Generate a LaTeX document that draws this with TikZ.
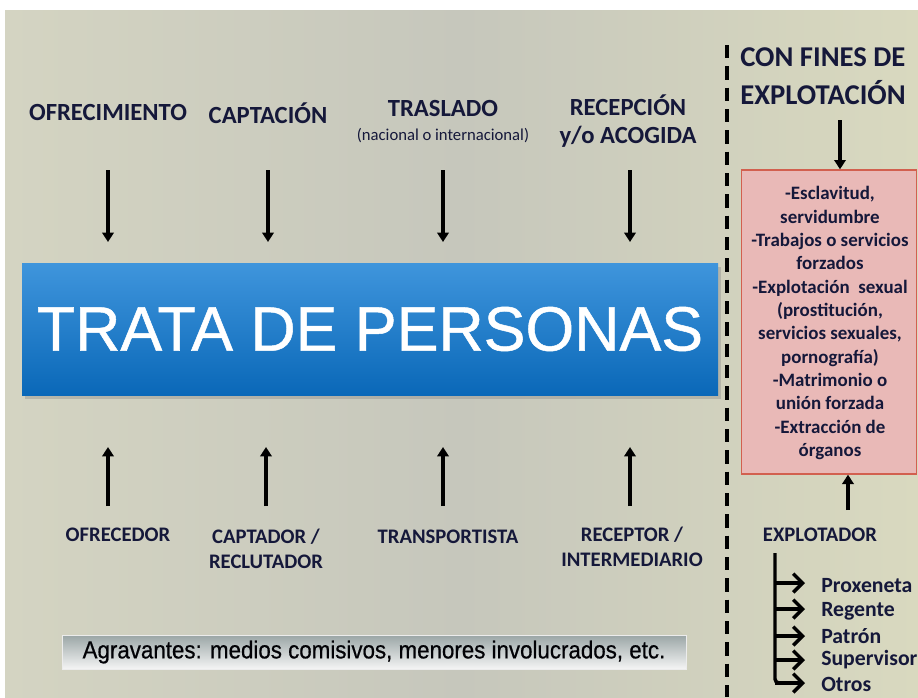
\documentclass[tikz,border=0pt]{standalone}
\usepackage{fontspec}
\setmainfont{Carlito}
\newfontfamily\arialf{Liberation Sans}
\usetikzlibrary{arrows.meta,shadows}
\definecolor{bgl}{HTML}{D4D4C2}
\definecolor{bgm}{HTML}{C6C7BC}
\definecolor{bgr}{HTML}{D9D9BF}
\definecolor{navy}{HTML}{15183A}
\definecolor{pinkf}{HTML}{E9B9B7}
\definecolor{pinkd}{HTML}{D2604F}
\definecolor{bluet}{HTML}{3F95DC}
\definecolor{blueb}{HTML}{0A68B8}
\tikzset{
  lab/.style={font=\bfseries\fontsize{15.5}{19}\selectfont, text=navy, align=center, inner sep=0pt},
  toplab/.style={lab, font=\bfseries\fontsize{18.5}{22}\selectfont},
  itemlab/.style={lab, anchor=west, font=\bfseries\fontsize{16.3}{18}\selectfont},
  arr/.style={line width=3pt, -{Triangle[length=7pt,width=8.5pt]}},
  barb/.style={line width=2.6pt, -{Straight Barb[length=7pt,width=14pt,line width=2.6pt]}},
}
\begin{document}
\begin{tikzpicture}[x=0.75pt,y=-0.75pt]
\useasboundingbox (0,0) rectangle (918,697);
\fill[white] (0,0) rectangle (918,697);
\shade[left color=bgl, right color=bgr, middle color=bgm] (5,10) rectangle (918,697);
% top labels
\node[toplab] (ofr) at (108,112) {OFRECIMIENTO};
\node[toplab] (cap) at (268,113) {CAPTACIÓN};
\node[toplab] (tra) at (443,108) {TRASLADO};
\node[lab, font=\fontsize{12.5}{14}\selectfont] (nac) at (443,136) {(nacional o internacional)};
\node[toplab] (rec) at (628,105) {RECEPCIÓN};
\node[toplab] (rec2) at (628,137) {y/o ACOGIDA};
% blue box
\node[draw=none, top color=bluet, bottom color=blueb, minimum width=696*0.75pt, minimum height=132*0.75pt,
      drop shadow={shadow xshift=2pt, shadow yshift=-3pt, opacity=0.35}, inner sep=0pt,
      font=\arialf\fontsize{47}{50}\selectfont, text=white] (trata) at (370,329) {\addfontfeature{FakeBold=0.8}TRATA DE PERSONAS};
% top arrows
\coordinate (a1) at (108,170); \coordinate (a2) at (268,170); \coordinate (a3) at (443,170); \coordinate (a4) at (630,170);
\coordinate (b1) at (108,242); \coordinate (b2) at (268,242); \coordinate (b3) at (443,242); \coordinate (b4) at (630,242);
\foreach \i in {1,...,4} \draw[arr] (a\i) -- (b\i);
% bottom arrows
\coordinate (c1) at (108,506); \coordinate (c2) at (266,506); \coordinate (c3) at (443,506); \coordinate (c4) at (630,506);
\coordinate (d1) at (108,447); \coordinate (d2) at (266,447); \coordinate (d3) at (443,447); \coordinate (d4) at (630,447);
\foreach \i in {1,...,4} \draw[arr] (c\i) -- (d\i);
% bottom labels
\node[lab] (ofre) at (118,535) {OFRECEDOR};
\node[lab] (capt) at (266,537) {CAPTADOR /};
\node[lab] (capt2) at (266,562) {RECLUTADOR};
\node[lab] (tran) at (448,537) {TRANSPORTISTA};
\node[lab] (rece) at (632,535) {RECEPTOR /};
\node[lab] (rece2) at (632,560) {INTERMEDIARIO};
% agravantes
\node[draw=white!85!gray, line width=0.6pt, top color=white!85!cyan!30!gray, bottom color=white!92!gray,
      minimum width=624*0.75pt, minimum height=34*0.75pt, inner sep=0pt,
      font=\arialf\fontsize{18.5}{21}\selectfont, text=black!90!navy] (agr) at (374,652)
      {\addfontfeature{FakeStretch=0.905,FakeBold=0.6}Agravantes: medios comisivos, menores involucrados, etc.};
% dashed separator
\coordinate (s1) at (727,45); \coordinate (s2) at (727,697);
\draw[line width=3.2pt, dash pattern=on 10pt off 6pt] (s1) -- (s2);
% right column
\node[lab, anchor=west, font=\bfseries\fontsize{21.5}{24}\selectfont] (con) at (740,57) {CON FINES DE};
\node[lab, anchor=west, font=\bfseries\fontsize{21.5}{24}\selectfont] (exp) at (740,93) {EXPLOTACIÓN};
\node[draw=pinkd, line width=1pt, fill=pinkf, minimum width=175*0.75pt, minimum height=304*0.75pt, inner sep=0pt] (pink) at (829,322) {};
\node[lab, font=\bfseries\fontsize{14.2}{17.5}\selectfont] (pinkt) at (830,323) {-Esclavitud,\\servidumbre\\-Trabajos o servicios\\forzados\\-Explotación\ \ sexual\\(prostitución,\\servicios sexuales,\\pornografía)\\-Matrimonio o\\unión forzada\\-Extracción de\\órganos};
\coordinate (e1) at (840,120);
\draw[arr] (e1) -- (pink.north -| e1);
\node[lab] (expl) at (820,535) {EXPLOTADOR};
\coordinate (f1) at (848,510);
\draw[arr] (f1) -- (pink.south -| f1);
% bracket
\node[itemlab] (p1) at (821,586) {Proxeneta};
\node[itemlab] (p2) at (821,611) {Regente};
\node[itemlab] (p3) at (821,636) {Patrón};
\node[itemlab] (p4) at (821,660) {Supervisor};
\node[itemlab] (p5) at (821,684) {Otros};
\coordinate (g0) at (775,553);
\foreach \i/\yy in {1/583,2/609,3/636,4/660,5/683} {
  \coordinate (h\i) at (775,\yy);
  \coordinate (k\i) at (805,\yy);
}
\draw[line width=2.6pt, rounded corners=3pt] (g0) -- (h5) -- ([xshift=-8pt]k5);
\foreach \i in {1,...,5} \draw[barb] (h\i) -- (k\i);
\end{tikzpicture}
\end{document}
